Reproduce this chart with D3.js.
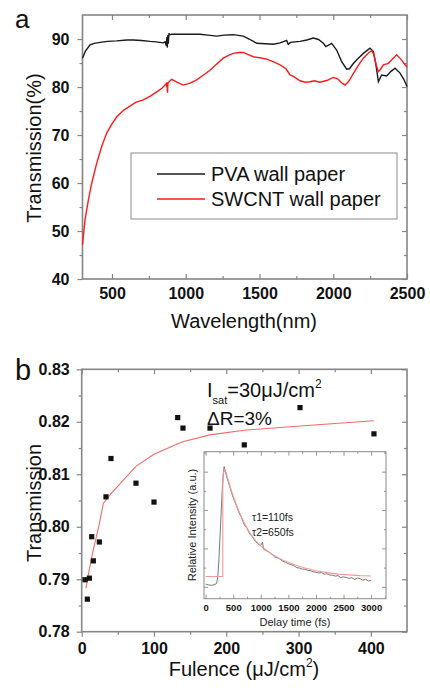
<!DOCTYPE html>
<html>
<head>
<meta charset="utf-8">
<script src="https://cdn.jsdelivr.net/npm/d3@7"></script>
<style>
  body { margin: 0; background: #fff; }
  text { font-family: "Liberation Sans", Arial, sans-serif; }
</style>
</head>
<body>
<div id="viz"></div>
<script>
// ---- panel a : transmission spectra ----
var pvaCurve = [[300,86.0],[320,87.5],[351,88.8],[380,89.1],[419,89.3],[470,89.5],[532,89.6],[600,89.8],[644,89.8],
  [700,89.7],[758,89.5],[800,89.4],[848,89.2],[860,89.4],[868,88.6],[872,90.4],[875,88.2],[878,90.8],[882,89.0],
  [886,91.2],[890,90.9],[905,91.0],[1000,91.0],[1097,91.0],[1150,90.8],[1210,90.6],[1260,90.8],[1322,90.9],
  [1390,90.6],[1430,90.0],[1481,89.1],[1540,89.0],[1594,88.9],[1640,89.2],[1684,89.7],[1695,88.9],[1710,89.3],
  [1775,89.5],[1820,89.8],[1865,90.2],[1900,89.9],[1933,89.1],[1950,88.4],[1989,89.1],[2023,87.7],[2057,85.3],
  [2091,83.7],[2110,83.8],[2136,84.9],[2170,86.0],[2204,87.0],[2249,88.1],[2272,87.4],[2290,84.5],[2306,81.1],
  [2328,82.5],[2362,82.3],[2390,83.2],[2419,83.9],[2453,82.9],[2480,81.5],[2500,80.1]];
var swcntCurve = [[300,47.1],[317,52.3],[340,56.5],[362,59.9],[396,64.1],[430,67.6],[464,70.4],[500,72.3],[532,73.8],
  [580,75.2],[622,76.0],[660,76.8],[712,77.3],[760,78.1],[803,79.0],[840,79.8],[865,80.6],[870,80.3],[873,81.0],
  [876,78.8],[879,80.8],[890,81.2],[905,81.6],[940,81.0],[983,80.4],[1030,80.8],[1074,81.5],[1120,82.5],[1164,83.5],
  [1210,84.8],[1254,86.0],[1290,86.6],[1322,87.0],[1360,87.2],[1390,87.2],[1420,86.8],[1458,86.3],[1500,86.1],
  [1549,85.8],[1600,85.2],[1639,84.6],[1680,83.8],[1707,82.5],[1730,82.2],[1775,81.3],[1810,81.0],[1843,81.1],
  [1870,81.3],[1910,81.0],[1960,81.4],[2000,82.0],[2030,81.7],[2060,80.8],[2080,80.4],[2105,81.2],[2136,82.8],
  [2170,84.5],[2204,86.0],[2235,87.0],[2261,87.6],[2275,86.8],[2290,84.8],[2305,83.2],[2318,83.6],[2340,84.6],
  [2373,84.9],[2400,85.8],[2430,86.7],[2464,85.6],[2485,84.7],[2500,84.2]];
var legendNames = ["PVA wall paper", "SWCNT wall paper"];
var wlTicks = [500, 1000, 1500, 2000, 2500];
var wlMinor = [750, 1250, 1750, 2250];
var pctTicks = [40, 50, 60, 70, 80, 90];
var pctMinor = [45, 55, 65, 75, 85];

// ---- panel b : saturable absorption ----
var fluence = [4.6, 7.8, 10.6, 13.8, 16.1, 24.4, 33.6, 40.5, 75.1, 100, 132.8, 140.1, 177.5, 224.9, 302, 404.3];
var fluenceT = [0.7899, 0.7862, 0.7902, 0.7981, 0.7935, 0.7971, 0.8057, 0.8130, 0.8083, 0.8047,
  0.8208, 0.8188, 0.8188, 0.8156, 0.8227, 0.8177];
var fitFluence = [6, 10, 16, 24, 30, 40, 75, 100, 133, 140, 177, 225, 302, 404];
var fitT = [0.7883, 0.7915, 0.7956, 0.8003, 0.8045, 0.8062, 0.8115, 0.8138, 0.8158, 0.8162, 0.8175, 0.8184, 0.8192, 0.8202];
var fluTicks = [0, 100, 200, 300, 400];
var fluMinor = [50, 150, 250, 350];
var trTicks = [0.78, 0.79, 0.80, 0.81, 0.82, 0.83];
var trMinor = [0.785, 0.795, 0.805, 0.815, 0.825];

// ---- inset : pump-probe trace ----
var delayData = [[0,0.007],[50,0.005],[100,0.004],[150,0.005],[200,0.009],[220,0.025],[240,0.07],[260,0.13],
  [280,0.19],[300,0.25],[320,0.295],[335,0.313],[350,0.305],[375,0.29],[400,0.278],[450,0.255],[500,0.232],
  [550,0.214],[600,0.195],[650,0.18],[700,0.162],[750,0.152],[800,0.138],[850,0.13],[900,0.118],[950,0.112],
  [1000,0.108],[1030,0.116],[1050,0.098],[1100,0.094],[1150,0.09],[1200,0.085],[1250,0.078],[1300,0.076],
  [1350,0.072],[1400,0.066],[1450,0.064],[1500,0.06],[1550,0.058],[1600,0.055],[1650,0.05],[1700,0.049],
  [1750,0.046],[1800,0.046],[1850,0.043],[1900,0.042],[1950,0.039],[2000,0.038],[2050,0.036],[2100,0.037],
  [2150,0.033],[2200,0.034],[2250,0.031],[2300,0.030],[2350,0.028],[2400,0.029],[2450,0.024],[2500,0.026],
  [2550,0.024],[2600,0.022],[2650,0.024],[2700,0.019],[2750,0.023],[2800,0.021],[2850,0.017],[2900,0.02],
  [2950,0.015],[3000,0.017]];
var delayFit = [[0,0.027],[310,0.027],[312,0.29],[340,0.305],[370,0.298],[400,0.282],[450,0.258],[500,0.236],
  [600,0.198],[700,0.166],[800,0.141],[900,0.121],[1000,0.106],[1200,0.085],[1400,0.069],[1600,0.058],
  [1800,0.049],[2000,0.042],[2200,0.037],[2400,0.033],[2600,0.031],[2800,0.029],[3000,0.028]];
var delayTicks = [0, 500, 1000, 1500, 2000, 2500, 3000];
var delayMinor = [250, 750, 1250, 1750, 2250, 2750, 3250];
var intTicks = [0, 0.1, 0.2, 0.3];
var intMinor = [0.05, 0.15, 0.25, 0.35];

var svg = d3.select("#viz").append("svg").attr("width", 430).attr("height", 688);

// draws frame + ticks on four sides; labels only bottom & left
function drawAxes(x, y, o) {
  var x0 = x.range()[0], x1 = x.range()[1], yb = y.range()[0], yt = y.range()[1];
  var blank = function() { return ""; };
  var sides = [
    {gen: d3.axisBottom, s: x, t: "translate(0," + yb + ")", maj: o.xMaj, mn: o.xMin, dir: o.bottomOut ? 1 : -1, fmt: o.fmtX, pad: o.padX},
    {gen: d3.axisTop, s: x, t: "translate(0," + yt + ")", maj: o.xMaj, mn: o.xMin, dir: -1, fmt: blank, pad: 0},
    {gen: d3.axisLeft, s: y, t: "translate(" + x0 + ",0)", maj: o.yMaj, mn: o.yMin, dir: o.leftOut ? 1 : -1, fmt: o.fmtY, pad: o.padY},
    {gen: d3.axisRight, s: y, t: "translate(" + x1 + ",0)", maj: o.yMaj, mn: o.yMin, dir: -1, fmt: blank, pad: 0}
  ];
  sides.forEach(function(sd) {
    var g = svg.append("g").attr("transform", sd.t)
      .call(sd.gen(sd.s).tickValues(sd.maj).tickSize(sd.dir * o.big).tickSizeOuter(0).tickPadding(sd.pad).tickFormat(sd.fmt));
    g.select(".domain").remove();
    g.selectAll("line").attr("stroke", o.color).attr("stroke-width", o.tw);
    g.selectAll("text").attr("font-size", o.fs).attr("font-weight", "bold").attr("fill", "#111");
    var m = svg.append("g").attr("transform", sd.t)
      .call(sd.gen(sd.s).tickValues(sd.mn).tickSize(sd.dir * o.small).tickSizeOuter(0).tickFormat(blank));
    m.select(".domain").remove();
    m.selectAll("line").attr("stroke", o.color).attr("stroke-width", o.tw);
  });
  svg.append("rect").attr("x", x0).attr("y", yt).attr("width", x1 - x0).attr("height", yb - yt)
    .attr("fill", "none").attr("stroke", o.color).attr("stroke-width", o.sw);
}

// ================= panel a =================
var xa = d3.scaleLinear().domain([300, 2500]).range([82.5, 407]);
var ya = d3.scaleLinear().domain([40, 95]).range([279, 15]);
drawAxes(xa, ya, {xMaj: wlTicks, xMin: wlMinor, yMaj: pctTicks, yMin: pctMinor, bottomOut: false, leftOut: true,
  fmtX: d3.format("d"), fmtY: d3.format("d"), padX: 9, padY: 8, big: 5, small: 3, color: "#858585", tw: 1.2, sw: 1.6, fs: 16});

var lineA = d3.line().x(function(d) { return xa(d[0]); }).y(function(d) { return ya(d[1]); });
svg.append("path").datum(pvaCurve).attr("d", lineA).attr("fill", "none").attr("stroke", "#1a1a1a").attr("stroke-width", 1.4);
svg.append("path").datum(swcntCurve).attr("d", lineA).attr("fill", "none").attr("stroke", "#ff1a1a").attr("stroke-width", 1.4);

// legend
svg.append("rect").attr("x", 131).attr("y", 153).attr("width", 266).attr("height", 66)
  .attr("fill", "#fff").attr("stroke", "#8a8a8a").attr("stroke-width", 1);
var legColors = ["#1a1a1a", "#ff1a1a"];
legendNames.forEach(function(n, i) {
  svg.append("line").attr("x1", 157).attr("x2", 205).attr("y1", 174 + i * 25).attr("y2", 174 + i * 25)
    .attr("stroke", legColors[i]).attr("stroke-width", 1.4);
  svg.append("text").attr("x", 211).attr("y", 181 + i * 25).attr("font-size", 20).attr("fill", "#111").text(n);
});

svg.append("text").attr("transform", "translate(41,148) rotate(-90)").attr("text-anchor", "middle")
  .attr("font-size", 20).attr("fill", "#111").text("Transmission(%)");
svg.append("text").attr("x", 244).attr("y", 328).attr("text-anchor", "middle")
  .attr("font-size", 20).attr("fill", "#111").text("Wavelength(nm)");
svg.append("text").attr("x", 15).attr("y", 28).attr("font-size", 26).attr("fill", "#111").text("a");

// ================= panel b =================
var xb = d3.scaleLinear().domain([0, 450]).range([81.7, 407]);
var yb = d3.scaleLinear().domain([0.78, 0.83]).range([631.7, 369.3]);
drawAxes(xb, yb, {xMaj: fluTicks, xMin: fluMinor, yMaj: trTicks, yMin: trMinor, bottomOut: true, leftOut: true,
  fmtX: d3.format("d"), fmtY: d3.format(".2f"), padX: 6, padY: 7, big: 5, small: 3, color: "#858585", tw: 1.2, sw: 1.6, fs: 16});

var lineB = d3.line().x(function(d) { return xb(d[0]); }).y(function(d) { return yb(d[1]); });
svg.append("path").datum(d3.zip(fitFluence, fitT)).attr("d", lineB).attr("fill", "none")
  .attr("stroke", "#f06a6a").attr("stroke-width", 1.1);
svg.selectAll(".pt").data(d3.zip(fluence, fluenceT)).enter().append("rect")
  .attr("x", function(d) { return xb(d[0]) - 2.6; }).attr("y", function(d) { return yb(d[1]) - 2.6; })
  .attr("width", 5.2).attr("height", 5.2).attr("fill", "#111");

var ann = svg.append("text").attr("x", 207).attr("y", 397).attr("font-size", 20).attr("fill", "#111");
ann.append("tspan").text("I");
ann.append("tspan").attr("font-size", 11).attr("dy", 7).text("sat");
ann.append("tspan").attr("dy", -7).text("=30\u03bcJ/cm");
ann.append("tspan").attr("font-size", 12).attr("dy", -9).text("2");
svg.append("text").attr("x", 207).attr("y", 425).attr("font-size", 19).attr("fill", "#111").text("\u0394R=3%");

svg.append("text").attr("transform", "translate(41,503) rotate(-90)").attr("text-anchor", "middle")
  .attr("font-size", 20).attr("fill", "#111").text("Transmission");
var xt = svg.append("text").attr("x", 244).attr("y", 676).attr("text-anchor", "middle").attr("font-size", 20).attr("fill", "#111");
xt.append("tspan").text("Fulence (\u03bcJ/cm");
xt.append("tspan").attr("font-size", 12).attr("dy", -9).text("2");
xt.append("tspan").attr("dy", 9).text(")");
svg.append("text").attr("x", 15).attr("y", 380).attr("font-size", 29).attr("fill", "#111").text("b");

// ================= inset =================
var xi = d3.scaleLinear().domain([-30, 3270]).range([204, 386]);
var yi = d3.scaleLinear().domain([-0.031, 0.352]).range([598.7, 451.7]);
svg.append("rect").attr("x", 204).attr("y", 451.7).attr("width", 182).attr("height", 147).attr("fill", "#fff");
drawAxes(xi, yi, {xMaj: delayTicks, xMin: delayMinor, yMaj: intTicks, yMin: intMinor, bottomOut: false, leftOut: false,
  fmtX: d3.format("d"), fmtY: function() { return ""; }, padX: 6, padY: 0, big: 4, small: 2, color: "#8a8a8a", tw: 0.9, sw: 1, fs: 9.5});

var lineI = d3.line().x(function(d) { return xi(d[0]); }).y(function(d) { return yi(d[1]); });
svg.append("path").datum(delayData).attr("d", lineI).attr("fill", "none").attr("stroke", "#555").attr("stroke-width", 0.8);
svg.append("path").datum(delayFit).attr("d", lineI).attr("fill", "none").attr("stroke", "#f49a9a").attr("stroke-width", 1.1);

svg.append("text").attr("x", 252).attr("y", 521).attr("font-size", 10.5).attr("fill", "#222").text("\u03c41=110fs");
svg.append("text").attr("x", 252).attr("y", 536).attr("font-size", 10.5).attr("fill", "#222").text("\u03c42=650fs");
svg.append("text").attr("transform", "translate(196,525) rotate(-90)").attr("text-anchor", "middle")
  .attr("font-size", 11).attr("fill", "#222").text("Relative Intensity (a.u.)");
svg.append("text").attr("x", 295).attr("y", 626).attr("text-anchor", "middle")
  .attr("font-size", 11).attr("fill", "#222").text("Delay time (fs)");
</script>
</body>
</html>
